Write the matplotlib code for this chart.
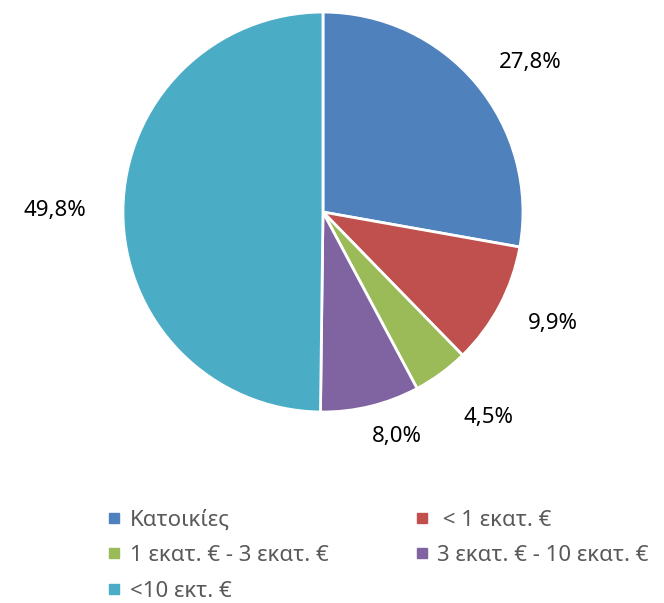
import numpy as np
import matplotlib.pyplot as plt
from matplotlib.lines import Line2D

plt.rcParams['font.family'] = ['Noto Sans', 'DejaVu Sans']

labels = ['Κατοικίες', ' < 1 εκατ. €', '1 εκατ. € - 3 εκατ. €',
          '3 εκατ. € - 10 εκατ. €', '<10 εκτ. €']
shares = [27.8, 9.9, 4.5, 8.0, 49.8]
colors = ['#4F81BD', '#C0504D', '#9BBB59', '#8064A2', '#4BACC6']
# where each percentage label sits: distance in radii, angle shift in degrees
label_dist = [1.28, 1.28, 1.32, 1.18, 1.34]
label_shift = [-4.2, 2.0, 2.7, 4.6, 0.0]

fig = plt.figure(figsize=(6.64, 6.03), dpi=100)
ax = fig.add_axes([0.1852, 0.3167, 0.6024, 0.6633])

wedges, texts, autotexts = ax.pie(
    shares, colors=colors, startangle=90, counterclock=False,
    radius=1.0, pctdistance=1.28,
    autopct=lambda p: f'{p:.1f}%'.replace('.', ','),
    wedgeprops=dict(edgecolor='white', linewidth=2),
    textprops=dict(fontsize=16, color='black'))
for w, t, d, s in zip(wedges, autotexts, label_dist, label_shift):
    ang = np.deg2rad((w.theta1 + w.theta2) / 2 + s)
    t.set_position((d * np.cos(ang), d * np.sin(ang)))
ax.set_xlim(-1, 1)
ax.set_ylim(-1, 1)
ax.set_aspect('equal')

# legend is filled row by row in the reference
order = [0, 2, 4, 1, 3]
handles = [Line2D([], [], marker='s', linestyle='none', markersize=7,
                  markerfacecolor=colors[i], markeredgecolor=colors[i])
           for i in order]
fig.legend(handles, [labels[i] for i in order], ncol=2, loc='upper left',
           bbox_to_anchor=(0.1385, 0.181), frameon=False, borderaxespad=0.3,
           fontsize=16, handlelength=0.6, handletextpad=0.4,
           columnspacing=3.9, labelspacing=0.66, labelcolor='#595959')

fig.savefig('out.png', dpi=100)
